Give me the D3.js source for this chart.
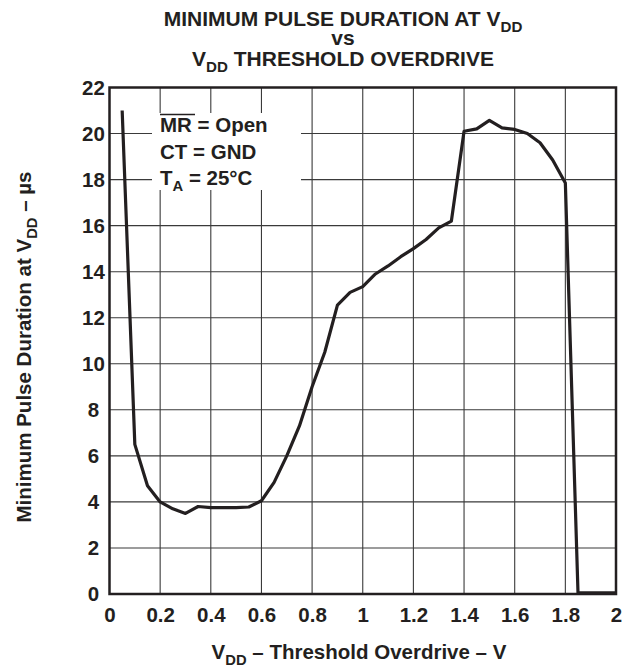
<!DOCTYPE html>
<html>
<head>
<meta charset="utf-8">
<script src="https://cdn.jsdelivr.net/npm/d3@7"></script>
<style>
  html, body { margin: 0; padding: 0; background: #fff; }
  svg { display: block; }
  text { font-family: "Liberation Sans", Arial, Helvetica, sans-serif; font-weight: bold; fill: #231f20; }
</style>
</head>
<body>
<svg id="chart" width="631" height="667"></svg>
<script>
// ---- data ----
const overdriveV = [0.05, 0.10, 0.15, 0.20, 0.25, 0.30, 0.35, 0.40, 0.45, 0.50, 0.55, 0.60, 0.65, 0.70, 0.75, 0.80, 0.85, 0.90, 0.95, 1.00, 1.05, 1.10, 1.15, 1.20, 1.25, 1.30, 1.35, 1.40, 1.45, 1.50, 1.55, 1.60, 1.65, 1.70, 1.75, 1.80, 1.85, 2.00];
const pulseUs    = [21.0, 6.5, 4.7, 4.0, 3.7, 3.5, 3.8, 3.75, 3.75, 3.75, 3.78, 4.05, 4.85, 6.0, 7.3, 9.0, 10.5, 12.55, 13.1, 13.35, 13.9, 14.25, 14.65, 15.0, 15.4, 15.9, 16.2, 20.1, 20.2, 20.57, 20.25, 20.18, 20.0, 19.6, 18.85, 17.85, 0.05, 0.05];
const xTicks = [0, 0.2, 0.4, 0.6, 0.8, 1, 1.2, 1.4, 1.6, 1.8, 2];
const yTicks = [0, 2, 4, 6, 8, 10, 12, 14, 16, 18, 20, 22];
const titleLines = ["MINIMUM PULSE DURATION AT V|DD", "vs", "V|DD THRESHOLD OVERDRIVE"];
const legendLines = ["MR = Open", "CT = GND", "T|A = 25°C"];

// ---- layout ----
const svg = d3.select("#chart");
const L = 109.5, R = 616, T = 87.5, B = 594;
const x = d3.scaleLinear().domain([0, 2]).range([L, R]);
const y = d3.scaleLinear().domain([0, 22]).range([B, T]);

// grid
const grid = svg.append("g").attr("stroke", "#3a3a3a").attr("stroke-width", 1.1);
grid.selectAll("line.v").data(xTicks.slice(1, -1)).join("line")
  .attr("x1", d => x(d)).attr("x2", d => x(d)).attr("y1", T).attr("y2", B);
grid.selectAll("line.h").data(yTicks.slice(1, -1)).join("line")
  .attr("x1", L).attr("x2", R).attr("y1", d => y(d)).attr("y2", d => y(d));

// legend box (white background hiding grid)
svg.append("rect").attr("x", 152).attr("y", 113).attr("width", 149).attr("height", 77).attr("fill", "#fff");

// frame
svg.append("rect").attr("x", L).attr("y", T).attr("width", R - L).attr("height", B - T)
  .attr("fill", "none").attr("stroke", "#231f20").attr("stroke-width", 2.5);

// axes tick labels via d3 axes
const xAxis = svg.append("g").attr("transform", `translate(0,${B})`)
  .call(d3.axisBottom(x).tickValues(xTicks).tickSize(0).tickPadding(13).tickFormat(d3.format("")));
xAxis.select(".domain").remove();
xAxis.selectAll("text").attr("font-size", 20.5).attr("font-family", null).attr("fill", "#231f20");

const yAxis = svg.append("g").attr("transform", `translate(${L},0)`)
  .call(d3.axisLeft(y).tickValues(yTicks).tickSize(0).tickPadding(16).tickFormat(d3.format("")));
yAxis.select(".domain").remove();
yAxis.attr("text-anchor", "middle");
yAxis.selectAll("text").attr("font-size", 20.5).attr("font-family", null).attr("fill", "#231f20");

// curve
svg.append("path")
  .datum(overdriveV.map((v, i) => [v, pulseUs[i]]))
  .attr("fill", "none").attr("stroke", "#231f20").attr("stroke-width", 3.2)
  .attr("stroke-linejoin", "round")
  .attr("d", d3.line().x(d => x(d[0])).y(d => y(d[1])));

// helper for text with subscript marked by "|" (subscript runs until next space)
function subText(sel, str, size) {
  const parts = str.split("|");
  sel.append("tspan").text(parts[0]);
  if (parts.length > 1) {
    const rest = parts[1];
    const sp = rest.indexOf(" ");
    const sub = sp < 0 ? rest : rest.slice(0, sp);
    const tail = sp < 0 ? "" : rest.slice(sp);
    sel.append("tspan").attr("dy", size * 0.3).attr("font-size", size * 0.72).text(sub);
    if (tail) sel.append("tspan").attr("dy", -size * 0.3).text(tail);
  }
}

// title
const titleY = [26, 45, 66];
titleLines.forEach((t, i) => {
  const tx = svg.append("text").attr("x", 343).attr("y", titleY[i]).attr("text-anchor", "middle").attr("font-size", 21);
  subText(tx, t, 21);
});

// legend text
const legY = [132, 159, 185];
legendLines.forEach((t, i) => {
  const tx = svg.append("text").attr("x", 160).attr("y", legY[i]).attr("font-size", 20.5);
  subText(tx, t, 20.5);
});
svg.append("line").attr("x1", 160).attr("x2", 195).attr("y1", 114.5).attr("y2", 114.5)
  .attr("stroke", "#231f20").attr("stroke-width", 1.5);

// x axis title
const xt = svg.append("text").attr("x", 359).attr("y", 659).attr("text-anchor", "middle").attr("font-size", 20.5);
subText(xt, "V|DD – Threshold Overdrive – V", 20.5);

// y axis title
const yt = svg.append("text").attr("transform", `translate(31,347) rotate(-90)`)
  .attr("text-anchor", "middle").attr("font-size", 20.5);
subText(yt, "Minimum Pulse Duration at V|DD – µs", 20.5);
</script>
</body>
</html>
